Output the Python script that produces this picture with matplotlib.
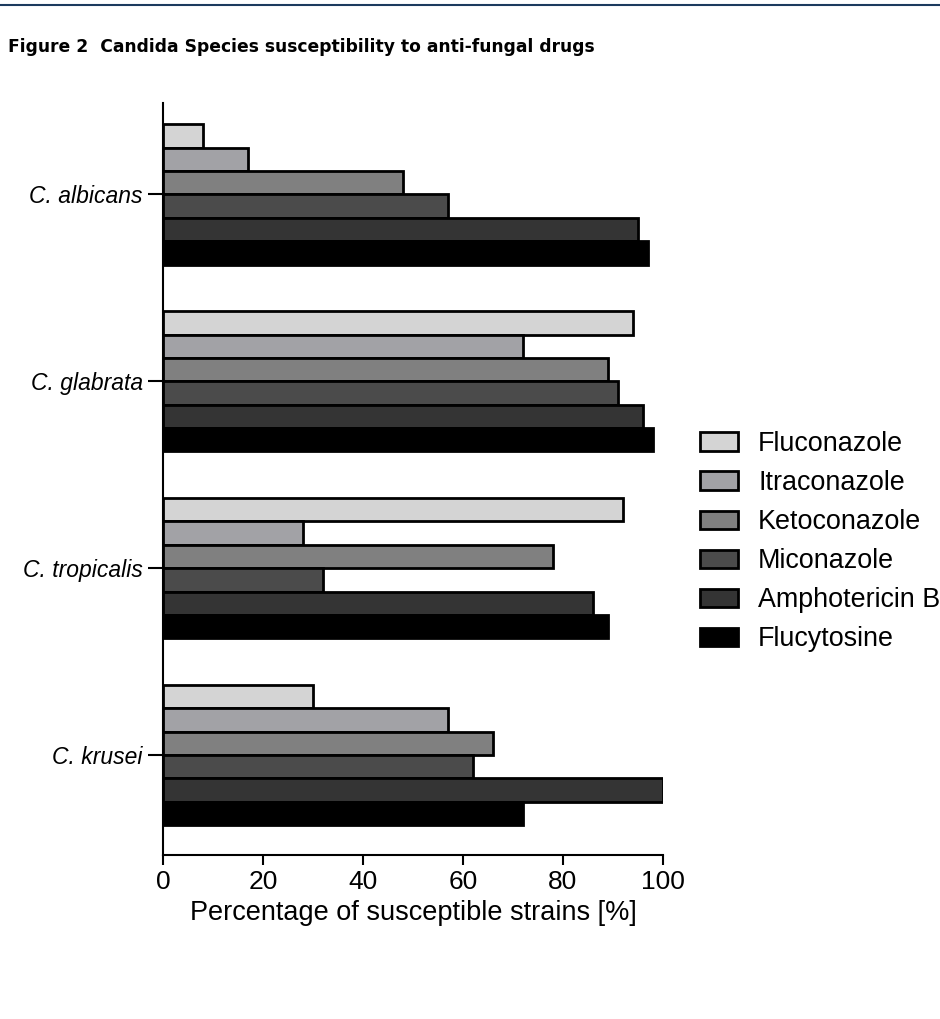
import matplotlib
matplotlib.use('Agg')
import matplotlib.pyplot as plt
import numpy as np

species = ['C. albicans', 'C. glabrata', 'C. tropicalis', 'C. krusei']
drugs = ['Fluconazole', 'Itraconazole', 'Ketoconazole', 'Miconazole', 'Amphotericin B', 'Flucytosine']
fluconazole = [8, 94, 92, 30]
itraconazole = [17, 72, 28, 57]
ketoconazole = [48, 89, 78, 66]
miconazole = [57, 91, 32, 62]
amphotericin_b = [95, 96, 86, 100]
flucytosine = [97, 98, 89, 72]
colors = ['#d4d4d4', '#a2a2a6', '#808080', '#4b4b4b', '#343434', '#000000']

plt.rcParams['font.family'] = ['Liberation Sans', 'DejaVu Sans']

series = [fluconazole, itraconazole, ketoconazole, miconazole, amphotericin_b, flucytosine]

fig = plt.figure(figsize=(9.4, 10.19), dpi=100)

# header rule + caption
fig.add_artist(plt.Line2D([0, 1], [0.9955, 0.9955], color='#1c3a5e', lw=1.5))
fig.text(0.009, 0.954, 'Figure 2  Candida Species susceptibility to anti-fungal drugs',
         fontsize=12.3, fontweight='bold', va='center', ha='left', family='DejaVu Sans')

ax = fig.add_axes([0.1734, 0.1609, 0.5319, 0.7381])
y = np.arange(len(species))
h = 0.125
for i, (vals, c, name) in enumerate(zip(series, colors, drugs)):
    ax.barh(y + (i - 2.5) * h, vals, height=h, color=c, edgecolor='black',
            linewidth=2, label=name)

ax.set_xlim(0, 100)
ax.set_ylim(3.535, -0.49)
ax.set_yticks(y)
ax.set_yticklabels(species, fontsize=16.5, style='italic')
ax.set_xticks(np.arange(0, 101, 20))
ax.tick_params(axis='x', labelsize=19, length=7, width=1.5, pad=4)
ax.tick_params(axis='y', length=11, width=1.5, pad=3.5)
ax.set_xlabel('Percentage of susceptible strains [%]', fontsize=19.5, labelpad=4)
for s in ['top', 'right']:
    ax.spines[s].set_visible(False)
for s in ['left', 'bottom']:
    ax.spines[s].set_linewidth(1.5)

ax.legend(loc='upper left', bbox_to_anchor=(0.745, 0.577), bbox_transform=fig.transFigure,
          frameon=False, fontsize=19.4, handlelength=1.41, handleheight=0.67,
          labelspacing=0.485, handletextpad=0.74, borderpad=0, borderaxespad=0)

fig.savefig('out.png', dpi=100)
